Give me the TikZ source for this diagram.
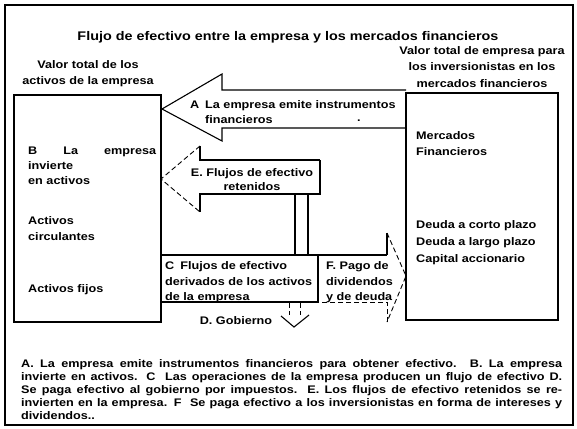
\documentclass[tikz,border=0pt]{standalone}
\usepackage{fontspec}
\setmainfont[FakeStretch=1.15]{Liberation Sans}
\begin{document}
\begin{tikzpicture}[x=1pt,y=-1pt,line join=miter,
  lbl/.style={font=\bfseries\fontsize{11}{13}\selectfont,inner sep=0pt,anchor=base west},
  cen/.style={font=\bfseries\fontsize{11}{13}\selectfont,inner sep=0pt,anchor=base},
  ptxt/.style={font=\bfseries\fontsize{11}{13}\selectfont,inner sep=0pt,anchor=base west},
  ln/.style={draw=black,line width=1.1pt},
  brk/.style={draw=black,line width=0.9pt,dash pattern=on 5pt off 3pt}]
\useasboundingbox (0,0) rectangle (577,428);
% frame
\draw[line width=2pt] (5,5) rectangle (573,425);
% title and headers
\node[cen,font=\bfseries\fontsize{12.5}{14}\selectfont] (title) at (288,41) {Flujo de efectivo entre la empresa y los mercados financieros};
\node[cen] (lh1) at (88,68) {Valor total de los};
\node[cen] (lh2) at (88,84) {activos de la empresa};
\node[cen] (rh1) at (482,54) {Valor total de empresa para};
\node[cen] (rh2) at (482,70) {los inversionistas en los};
\node[cen] (rh3) at (482,87) {mercados financieros};
% boxes
\coordinate (L1) at (14,95); \coordinate (L2) at (161,322);
\coordinate (R1) at (406,93); \coordinate (R2) at (558,320);
\draw[ln] (L1) rectangle (L2);
\draw[ln] (R1) rectangle (R2);
% arrow A
\draw[ln] (406,90) -- (222,90) -- (222,74) -- (162,109) -- (222,141) -- (222,128) -- (406,128);
\node[lbl] (ta1) at (190,108) {A};
\node[lbl] (ta2) at (205,108) {La empresa emite instrumentos};
\node[lbl] (ta3) at (205,123) {financieros};
\node[lbl] (dot) at (357,121) {.};
% arrow E
\draw[ln] (320,160) -- (200,160) -- (200,146);
\draw[brk] (200,146) -- (161,179) -- (200,212);
\draw[ln] (200,212) -- (200,194) -- (320,194) -- (320,160);
\draw[ln] (295,194) -- (295,255);
\draw[ln] (308,194) -- (308,255);
\node[cen] (te1) at (252,176) {E. Flujos de efectivo};
\node[cen] (te2) at (252,190) {retenidos};
% box C
\draw[ln] (161,255) -- (387,255);
\draw[ln] (318,255) -- (318,302) -- (161,302);
\node[lbl] (tc1) at (165,269) {C\hspace{6pt}Flujos de efectivo};
\node[lbl] (tc2) at (165,285) {derivados de los activos};
\node[lbl] (tc3) at (165,300) {de la empresa};
% arrow F
\draw[ln] (387,255) -- (387,233);
\draw[brk] (387,233) -- (406,276) -- (387,322);
\draw[brk] (387,322) -- (387,302) -- (318,302);
\node[lbl] (tf1) at (326,269) {F. Pago de};
\node[lbl] (tf2) at (326,285) {dividendos};
\node[lbl] (tf3) at (326,300) {y de deuda};
% arrow D
\draw[brk] (289,303) -- (289,315);
\draw[brk] (300,303) -- (300,315);
\draw[ln] (281,316) -- (294,327) -- (309,315);
\node[cen] (td) at (236,324) {D. Gobierno};
% left box texts
\node[lbl] (tb1) at (28,154) {\makebox[128pt][s]{B La empresa}};
\node[lbl] (tb2) at (28,169) {invierte};
\node[lbl] (tb3) at (28,184) {en activos};
\node[lbl] (tac1) at (28,224) {Activos};
\node[lbl] (tac2) at (28,240) {circulantes};
\node[lbl] (taf) at (28,292) {Activos fijos};
% right box texts
\node[lbl] (tm1) at (416,139) {Mercados};
\node[lbl] (tm2) at (416,155) {Financieros};
\node[lbl] (td1) at (416,228) {Deuda a corto plazo};
\node[lbl] (td2) at (416,245) {Deuda a largo plazo};
\node[lbl] (td3) at (416,262) {Capital accionario};
% paragraph
\node[ptxt] (p1) at (21,367) {\makebox[541pt][s]{A. La empresa emite instrumentos financieros para obtener efectivo. B. La empresa}};
\node[ptxt] (p2) at (21,380) {\makebox[541pt][s]{invierte en activos. C\ \ Las operaciones de la empresa producen un flujo de efectivo D.}};
\node[ptxt] (p3) at (21,393) {\makebox[541pt][s]{Se paga efectivo al gobierno por impuestos. E. Los flujos de efectivo retenidos se re-}};
\node[ptxt] (p4) at (21,406) {\makebox[541pt][s]{invierten en la empresa. F\ \ Se paga efectivo a los inversionistas en forma de intereses y}};
\node[ptxt] (p5) at (21,419) {dividendos..};
\end{tikzpicture}
\end{document}
